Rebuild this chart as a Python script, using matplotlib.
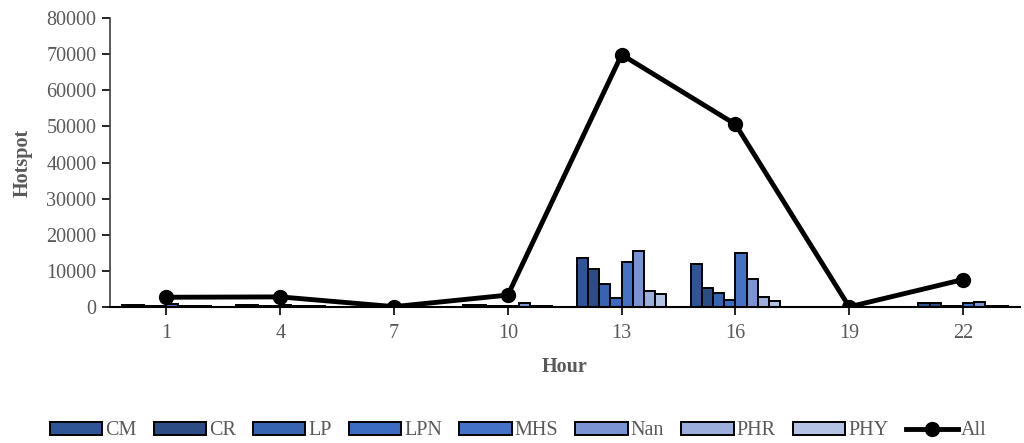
import numpy as np
import matplotlib
matplotlib.use("Agg")
import matplotlib.pyplot as plt

plt.rcParams['font.family'] = ['Liberation Serif', 'DejaVu Serif']

# Data
hours = ['1', '4', '7', '10', '13', '16', '19', '22']
series_names = ['CM', 'CR', 'LP', 'LPN', 'MHS', 'Nan', 'PHR', 'PHY']
series_values = {
    'CM':  [500, 600, 50, 500, 13700, 11900, 30, 1100],
    'CR':  [450, 550, 40, 450, 10500, 5200, 30, 1100],
    'LP':  [150, 300, 30, 200, 6400, 3800, 20, 300],
    'LPN': [150, 300, 30, 200, 2400, 1900, 20, 300],
    'MHS': [800, 500, 40, 300, 12600, 15000, 30, 1100],
    'Nan': [300, 400, 30, 1000, 15400, 7800, 20, 1500],
    'PHR': [200, 300, 20, 200, 4400, 2900, 20, 400],
    'PHY': [200, 300, 20, 200, 3500, 1600, 20, 400],
}
all_values = [2700, 2800, 100, 3300, 69900, 50600, 50, 7600]

colors = ['#2f5597', '#2c4c86', '#3664b0', '#3b6cc2', '#4472c4',
          '#7b93d2', '#9baedc', '#b4c2e4']

fig = plt.figure(figsize=(10.24, 4.43), dpi=100)
ax = fig.add_axes([0.107, 0.307, 0.889, 0.652])

x = np.arange(len(hours))
width = 0.098
n = len(series_names)
handles = []
for i, name in enumerate(series_names):
    offs = (i - (n - 1) / 2) * width
    b = ax.bar(x + offs, series_values[name], width, color=colors[i],
               edgecolor='black', linewidth=1.4, label=name, zorder=2)
    handles.append(b)

line, = ax.plot(x, all_values, color='black', linewidth=3.5, marker='o',
                markersize=10, label='All', zorder=3)
handles.append(line)

ax.set_xlim(-0.5, 7.5)
ax.set_ylim(0, 80000)
ax.set_yticks(np.arange(0, 80001, 10000))
ax.set_xticks(x)
ax.set_xticklabels(hours)

for side in ['top', 'right']:
    ax.spines[side].set_visible(False)
ax.spines['left'].set_color('#404040')
ax.spines['left'].set_linewidth(1.2)
ax.spines['bottom'].set_color('black')
ax.spines['bottom'].set_linewidth(1.5)

ax.tick_params(axis='both', labelsize=14.5, labelcolor='#595959',
               direction='out', length=6, width=1.2)
ax.tick_params(axis='x', pad=6)

ax.set_xlabel('Hour', fontsize=14.5, fontweight='bold', color='#595959', labelpad=10)
ax.set_ylabel('Hotspot', fontsize=14.5, fontweight='bold', color='#595959', labelpad=10)

leg = fig.legend(handles=handles, labels=series_names + ['All'],
                 loc='lower center', bbox_to_anchor=(0.506, -0.035), ncol=9,
                 frameon=False, fontsize=14.5, handlelength=2.6, handleheight=0.6,
                 handletextpad=0.15, columnspacing=0.85)
for t in leg.get_texts():
    t.set_color('#595959')

fig.savefig('out.png', dpi=100)
